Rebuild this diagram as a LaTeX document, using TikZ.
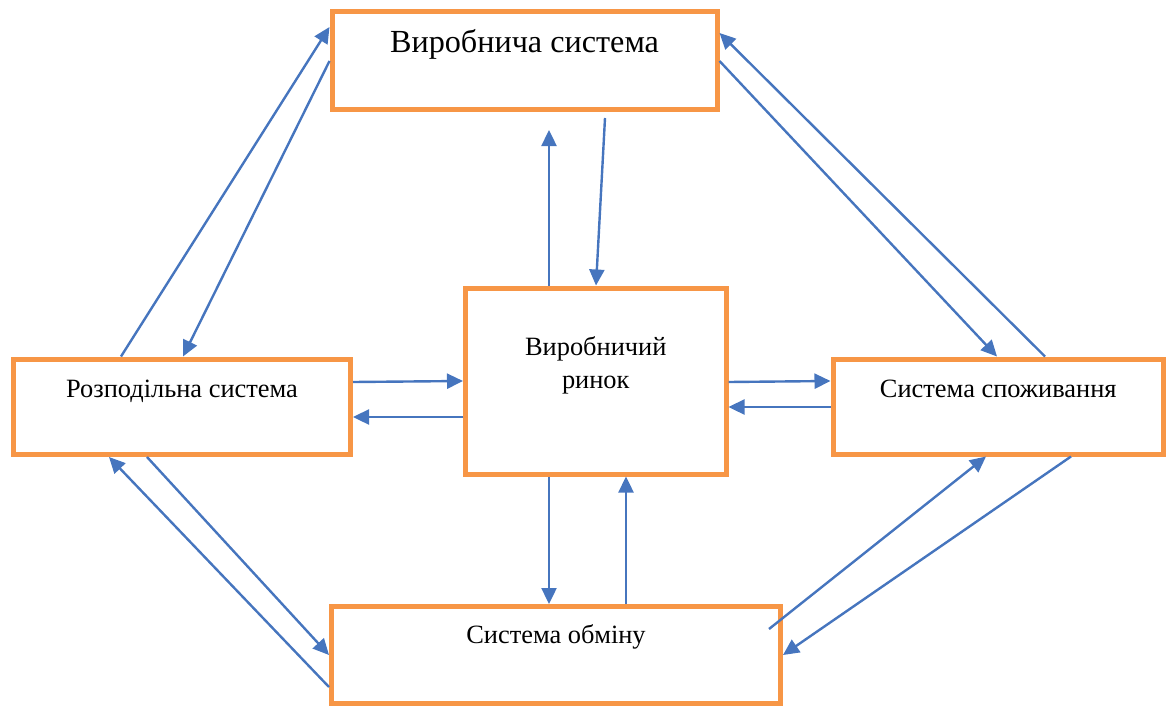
\documentclass[tikz,border=0pt]{standalone}
\usepackage{fontspec}
\setmainfont{Liberation Serif}
\usetikzlibrary{arrows.meta, calc}
\definecolor{mOrange}{HTML}{F79646}
\definecolor{mBlue}{HTML}{4675BE}

\begin{document}
\begin{tikzpicture}[x=0.5pt, y=-0.5pt,
    sysbox/.style={draw=mOrange, line width=2.5pt, fill=white, inner sep=0pt, anchor=north west,
      font=\fontsize{13.2}{16.5}\selectfont},
    flow/.style={draw=mBlue, line width=1.2pt, -{Triangle[length=8pt, width=7.5pt]}}]
    \useasboundingbox (0,0) rectangle (1171,706);
    % five subsystems, text in the upper part of each box
    \node[sysbox, minimum width=192.5pt, text height=20.5pt, text depth=28.5pt,
      font=\fontsize{16.1}{19}\selectfont] (vyrob) at (329.5,9.5) {Виробнича система};
    \node[sysbox, minimum width=130.25pt, text height=50pt, text depth=43pt, align=center]
      (rynok) at (463,285.5) {Виробничий\\ринок};
    \node[sysbox, minimum width=168.5pt, text height=19pt, text depth=28.75pt] (rozp) at (11,356.5) {Розподільна система};
    \node[sysbox, minimum width=165.25pt, text height=19pt, text depth=28.5pt] (spoz) at (830.5,356.5) {Система споживання};
    \node[sysbox, minimum width=224.5pt, text height=18.25pt, text depth=30pt] (obmin) at (329,604) {Система обміну};
    % outer ring
    \draw[flow] ($(rozp.north west)+(110,0)$) -- ($(vyrob.north west)+(0,17.5)$);
    \draw[flow] ($(vyrob.north west)+(0,51.5)$) -- ($(rozp.north west)+(172,0)$);
    \draw[flow] ($(spoz.north west)+(214.5,0)$) -- ($(vyrob.north east)+(0,23.5)$);
    \draw[flow] ($(vyrob.north east)+(0,51.5)$) -- ($(spoz.north west)+(166.5,0)$);
    \draw[flow] ($(rozp.south west)+(136,0)$) -- ($(obmin.north west)+(0,51)$);
    \draw[flow] ($(obmin.north west)+(0,83)$) -- ($(rozp.south west)+(98,0)$);
    \draw[flow] ($(obmin.north east)+(-14,25)$) -- ($(spoz.south west)+(155.5,0)$);
    \draw[flow] ($(spoz.south west)+(240.5,0)$) -- ($(obmin.north east)+(0,51)$);
    % links through the market
    \draw[flow] ($(rynok.north west)+(86,0)$) -- ($(vyrob.south west)+(219.5,17.5)$);
    \draw[flow] ($(vyrob.south west)+(275.5,5.5)$) -- ($(rynok.north west)+(133,0)$);
    \draw[flow] ($(rozp.north east)+(0,25.5)$) -- ($(rynok.north west)+(0,95.5)$);
    \draw[flow] ($(rynok.north west)+(0,131.5)$) -- ($(rozp.north east)+(0,60.5)$);
    \draw[flow] ($(rynok.north east)+(0,96.5)$) -- ($(spoz.north west)+(0,24.5)$);
    \draw[flow] ($(spoz.north west)+(0,50.5)$) -- ($(rynok.north east)+(0,121.5)$);
    \draw[flow] ($(rynok.south west)+(86,0)$) -- ($(obmin.north west)+(220,0)$);
    \draw[flow] ($(obmin.north west)+(297,0)$) -- ($(rynok.south west)+(163,0)$);
\end{tikzpicture}
\end{document}
